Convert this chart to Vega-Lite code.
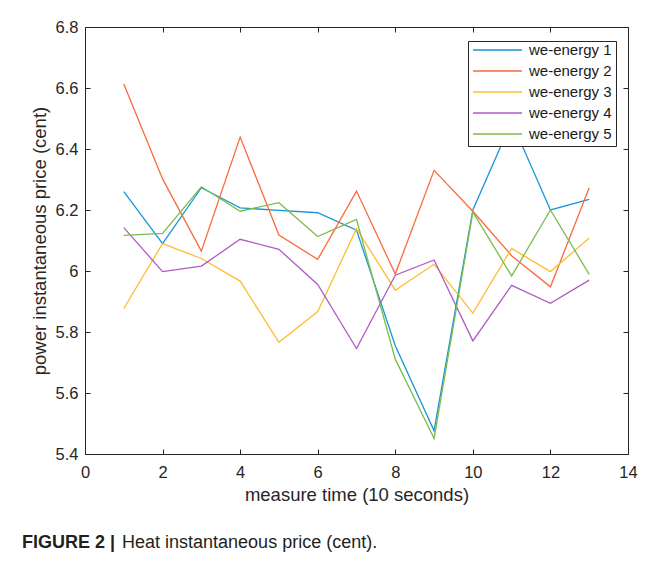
{
  "$schema": "https://vega.github.io/schema/vega-lite/v6.json",
  "width": 543,
  "height": 427,
  "autosize": {"type": "none"},
  "padding": {"left": 85, "top": 27, "right": 25, "bottom": 121},
  "background": "white",
  "title": {
    "text": "FIGURE 2 |",
    "subtitle": "\u200b\u00a0\u00a0\u00a0\u00a0\u00a0\u00a0\u00a0\u00a0\u00a0\u00a0\u00a0\u00a0\u00a0\u00a0\u00a0\u00a0\u00a0\u00a0\u00a0\u00a0Heat instantaneous price (cent).",
    "orient": "bottom",
    "anchor": "start",
    "frame": "group",
    "align": "left",
    "dx": -63,
    "offset": 30,
    "font": "Liberation Sans",
    "fontSize": 18,
    "fontWeight": "bold",
    "color": "#231f20",
    "subtitleFont": "Liberation Sans",
    "subtitleFontSize": 18,
    "subtitleFontWeight": "normal",
    "subtitleColor": "#231f20",
    "subtitlePadding": -18
  },
  "config": {
    "view": {"stroke": null},
    "axis": {
      "domainColor": "#262626",
      "tickColor": "#262626",
      "labelColor": "#262626",
      "titleColor": "#262626",
      "labelFont": "Liberation Sans",
      "titleFont": "Liberation Sans",
      "labelFontSize": 16.5,
      "titleFontSize": 18.5,
      "titleFontWeight": "normal",
      "grid": false,
      "tickSize": -5,
      "labelFlush": false
    }
  },
  "data": {
    "values": [
      {"t": 1, "price": 6.26, "series": "we-energy 1"},
      {"t": 2, "price": 6.09, "series": "we-energy 1"},
      {"t": 3, "price": 6.273, "series": "we-energy 1"},
      {"t": 4, "price": 6.207, "series": "we-energy 1"},
      {"t": 5, "price": 6.199, "series": "we-energy 1"},
      {"t": 6, "price": 6.191, "series": "we-energy 1"},
      {"t": 7, "price": 6.134, "series": "we-energy 1"},
      {"t": 8, "price": 5.755, "series": "we-energy 1"},
      {"t": 9, "price": 5.476, "series": "we-energy 1"},
      {"t": 10, "price": 6.2, "series": "we-energy 1"},
      {"t": 11, "price": 6.49, "series": "we-energy 1"},
      {"t": 12, "price": 6.2, "series": "we-energy 1"},
      {"t": 13, "price": 6.235, "series": "we-energy 1"},
      {"t": 1, "price": 6.613, "series": "we-energy 2"},
      {"t": 2, "price": 6.302, "series": "we-energy 2"},
      {"t": 3, "price": 6.065, "series": "we-energy 2"},
      {"t": 4, "price": 6.439, "series": "we-energy 2"},
      {"t": 5, "price": 6.118, "series": "we-energy 2"},
      {"t": 6, "price": 6.038, "series": "we-energy 2"},
      {"t": 7, "price": 6.262, "series": "we-energy 2"},
      {"t": 8, "price": 5.99, "series": "we-energy 2"},
      {"t": 9, "price": 6.33, "series": "we-energy 2"},
      {"t": 10, "price": 6.196, "series": "we-energy 2"},
      {"t": 11, "price": 6.05, "series": "we-energy 2"},
      {"t": 12, "price": 5.948, "series": "we-energy 2"},
      {"t": 13, "price": 6.273, "series": "we-energy 2"},
      {"t": 1, "price": 5.877, "series": "we-energy 3"},
      {"t": 2, "price": 6.09, "series": "we-energy 3"},
      {"t": 3, "price": 6.041, "series": "we-energy 3"},
      {"t": 4, "price": 5.967, "series": "we-energy 3"},
      {"t": 5, "price": 5.766, "series": "we-energy 3"},
      {"t": 6, "price": 5.867, "series": "we-energy 3"},
      {"t": 7, "price": 6.139, "series": "we-energy 3"},
      {"t": 8, "price": 5.937, "series": "we-energy 3"},
      {"t": 9, "price": 6.022, "series": "we-energy 3"},
      {"t": 10, "price": 5.862, "series": "we-energy 3"},
      {"t": 11, "price": 6.074, "series": "we-energy 3"},
      {"t": 12, "price": 5.998, "series": "we-energy 3"},
      {"t": 13, "price": 6.108, "series": "we-energy 3"},
      {"t": 1, "price": 6.142, "series": "we-energy 4"},
      {"t": 2, "price": 5.998, "series": "we-energy 4"},
      {"t": 3, "price": 6.016, "series": "we-energy 4"},
      {"t": 4, "price": 6.104, "series": "we-energy 4"},
      {"t": 5, "price": 6.071, "series": "we-energy 4"},
      {"t": 6, "price": 5.956, "series": "we-energy 4"},
      {"t": 7, "price": 5.746, "series": "we-energy 4"},
      {"t": 8, "price": 5.986, "series": "we-energy 4"},
      {"t": 9, "price": 6.036, "series": "we-energy 4"},
      {"t": 10, "price": 5.771, "series": "we-energy 4"},
      {"t": 11, "price": 5.953, "series": "we-energy 4"},
      {"t": 12, "price": 5.894, "series": "we-energy 4"},
      {"t": 13, "price": 5.97, "series": "we-energy 4"},
      {"t": 1, "price": 6.117, "series": "we-energy 5"},
      {"t": 2, "price": 6.123, "series": "we-energy 5"},
      {"t": 3, "price": 6.276, "series": "we-energy 5"},
      {"t": 4, "price": 6.196, "series": "we-energy 5"},
      {"t": 5, "price": 6.224, "series": "we-energy 5"},
      {"t": 6, "price": 6.113, "series": "we-energy 5"},
      {"t": 7, "price": 6.169, "series": "we-energy 5"},
      {"t": 8, "price": 5.711, "series": "we-energy 5"},
      {"t": 9, "price": 5.451, "series": "we-energy 5"},
      {"t": 10, "price": 6.193, "series": "we-energy 5"},
      {"t": 11, "price": 5.984, "series": "we-energy 5"},
      {"t": 12, "price": 6.2, "series": "we-energy 5"},
      {"t": 13, "price": 5.989, "series": "we-energy 5"}
    ]
  },
  "layer": [
    {
      "mark": {"type": "line", "strokeWidth": 1.3},
      "encoding": {
        "x": {
          "field": "t",
          "type": "quantitative",
          "scale": {"domain": [0, 14], "nice": false},
          "axis": {
            "orient": "bottom",
            "values": [0, 2, 4, 6, 8, 10, 12, 14],
            "format": "~g",
            "labelPadding": 15,
            "title": "measure time (10 seconds)",
            "titlePadding": 5
          }
        },
        "y": {
          "field": "price",
          "type": "quantitative",
          "scale": {"domain": [5.4, 6.8], "nice": false, "zero": false},
          "axis": {
            "orient": "left",
            "values": [5.4, 5.6, 5.8, 6, 6.2, 6.4, 6.6, 6.8],
            "format": "~g",
            "labelPadding": 12,
            "title": "power instantaneous price (cent)",
            "titlePadding": 6
          }
        },
        "color": {
          "field": "series",
          "type": "nominal",
          "scale": {
            "domain": ["we-energy 1", "we-energy 2", "we-energy 3", "we-energy 4", "we-energy 5"],
            "range": ["#1596d8", "#fa6a3c", "#fdbd33", "#ae5cc0", "#7dbb4a"]
          },
          "legend": {
            "orient": "none",
            "legendX": 383,
            "legendY": 14,
            "title": null,
            "direction": "vertical",
            "symbolType": "stroke",
            "symbolSize": 2400,
            "symbolStrokeWidth": 1.3,
            "padding": 4,
            "labelOffset": 6,
            "clipHeight": 10,
            "rowPadding": 6,
            "labelFont": "Liberation Sans",
            "labelFontSize": 15,
            "labelColor": "#1a1a1a",
            "strokeColor": "#262626",
            "fillColor": "white",
            "cornerRadius": 0
          }
        }
      }
    },
    {
      "mark": {"type": "point", "opacity": 0},
      "encoding": {
        "x": {
          "field": "t",
          "type": "quantitative",
          "scale": {"domain": [0, 14], "nice": false},
          "axis": {"orient": "top", "values": [0, 2, 4, 6, 8, 10, 12, 14], "labels": false, "title": null}
        },
        "y": {
          "field": "price",
          "type": "quantitative",
          "scale": {"domain": [5.4, 6.8], "nice": false, "zero": false},
          "axis": {"orient": "right", "values": [5.4, 5.6, 5.8, 6, 6.2, 6.4, 6.6, 6.8], "labels": false, "title": null}
        }
      }
    }
  ],
  "resolve": {"axis": {"x": "independent", "y": "independent"}}
}
